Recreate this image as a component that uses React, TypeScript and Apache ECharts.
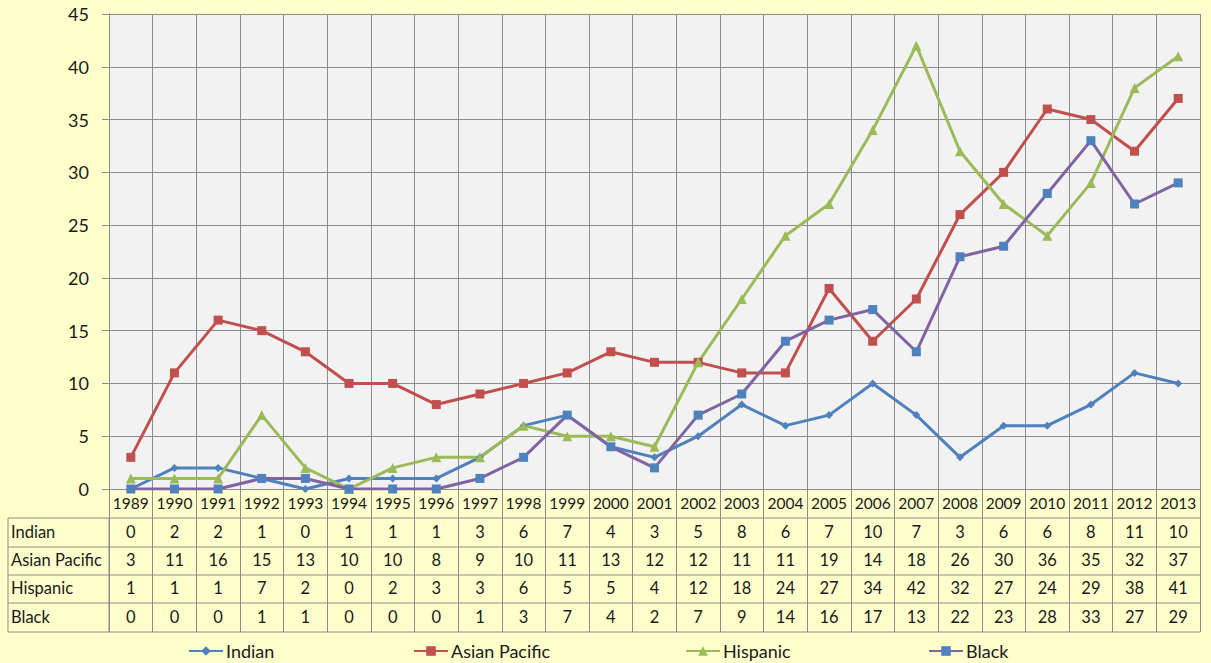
import React, { useEffect, useRef } from "react";
import * as echarts from "echarts";

const years = ["1989","1990","1991","1992","1993","1994","1995","1996","1997","1998","1999","2000","2001","2002","2003","2004","2005","2006","2007","2008","2009","2010","2011","2012","2013"];
const indian = [0,2,2,1,0,1,1,1,3,6,7,4,3,5,8,6,7,10,7,3,6,6,8,11,10];
const asianPacific = [3,11,16,15,13,10,10,8,9,10,11,13,12,12,11,11,19,14,18,26,30,36,35,32,37];
const hispanic = [1,1,1,7,2,0,2,3,3,6,5,5,4,12,18,24,27,34,42,32,27,24,29,38,41];
const black = [0,0,0,1,1,0,0,0,1,3,7,4,2,7,9,14,16,17,13,22,23,28,33,27,29];
const seriesNames = ["Indian", "Asian Pacific", "Hispanic", "Black"];
const yTicks = { min: 0, max: 45, interval: 5 };

const FONT = "Lato, 'Open Sans', sans-serif";
const TXT = "#1a1a1a";
const GRID = "#8c8c8c";
const TFS = 16.5;

export default function App() {
  const ref = useRef<HTMLDivElement>(null);
  useEffect(() => {
    document.body.style.margin = "0";
    const chart = echarts.init(ref.current!, null, { renderer: "svg" });
    const rows = [indian, asianPacific, hispanic, black];
    const rowOffsets = [28, 56, 84, 113];
    const rowCenters = [532, 560, 588, 617];
    const hLines = [518, 547, 575, 603, 632];

    const extraAxes = rows.map((vals, i) => ({
      type: "category",
      gridIndex: 0,
      position: "bottom",
      offset: rowOffsets[i],
      data: vals.map(String),
      boundaryGap: true,
      axisLine: { show: false },
      axisTick: { show: false },
      splitLine: { show: false },
      axisLabel: { interval: 0, margin: 6, fontSize: TFS, color: TXT, fontFamily: FONT },
    }));

    const graphics: any[] = [];
    hLines.forEach((y) =>
      graphics.push({ type: "line", shape: { x1: 8, y1: y, x2: 1200, y2: y }, style: { stroke: GRID, lineWidth: 1 }, silent: true })
    );
    graphics.push({ type: "line", shape: { x1: 8, y1: 518, x2: 8, y2: 632 }, style: { stroke: GRID, lineWidth: 1 }, silent: true });
    graphics.push({ type: "line", shape: { x1: 109, y1: 518, x2: 109, y2: 632 }, style: { stroke: GRID, lineWidth: 1 }, silent: true });
    seriesNames.forEach((n, i) =>
      graphics.push({
        type: "text",
        x: 11,
        y: rowCenters[i],
        style: { text: n, fontSize: TFS, fill: TXT, fontFamily: FONT, verticalAlign: "middle", align: "left" },
        silent: true,
      })
    );

    const legendLefts = [183, 408, 680, 923];
    const legends = seriesNames.map((n, i) => ({
      data: [n],
      left: legendLefts[i],
      top: 637,
      itemWidth: 34,
      itemHeight: 12,
      itemGap: 0,
      textStyle: { fontSize: 18, color: TXT, fontFamily: FONT, padding: [0, 0, 0, -2] },
    }));

    const mk = (name: string, data: number[], lineColor: string, markerColor: string, symbol: string, size: number) => ({
      name,
      type: "line",
      data,
      symbol,
      symbolSize: size,
      showSymbol: true,
      lineStyle: { color: lineColor, width: 3 },
      itemStyle: { color: markerColor },
    });

    chart.setOption({
      animation: false,
      backgroundColor: "#FFFFCC",
      grid: { left: 109, right: 11, top: 14, bottom: 174, show: true, backgroundColor: "#F2F2F2", borderWidth: 0 },
      legend: legends,
      xAxis: [
        {
          type: "category",
          gridIndex: 0,
          position: "bottom",
          data: years,
          boundaryGap: true,
          axisLine: { show: true, lineStyle: { color: GRID } },
          axisTick: { show: true, length: 143, lineStyle: { color: GRID } },
          splitLine: { show: true, lineStyle: { color: GRID } },
          axisLabel: { interval: 0, margin: 6, fontSize: 15.5, color: TXT, fontFamily: FONT },
        },
        ...extraAxes,
      ],
      yAxis: {
        type: "value",
        min: yTicks.min,
        max: yTicks.max,
        interval: yTicks.interval,
        axisLine: { show: true, lineStyle: { color: GRID } },
        axisTick: { show: true, length: 7, lineStyle: { color: GRID } },
        splitLine: { show: true, lineStyle: { color: GRID } },
        axisLabel: { fontSize: 18, color: TXT, fontFamily: FONT, margin: 20 },
      },
      graphic: graphics,
      series: [
        mk("Indian", indian, "#4F81BD", "#4F81BD", "diamond", 8),
        mk("Asian Pacific", asianPacific, "#C0504D", "#C0504D", "rect", 9),
        mk("Hispanic", hispanic, "#9BBB59", "#9BBB59", "triangle", 10),
        mk("Black", black, "#8064A2", "#4F81BD", "rect", 9),
      ],
    });
    return () => chart.dispose();
  }, []);
  return <div ref={ref} style={{ width: 1211, height: 663 }} />;
}
